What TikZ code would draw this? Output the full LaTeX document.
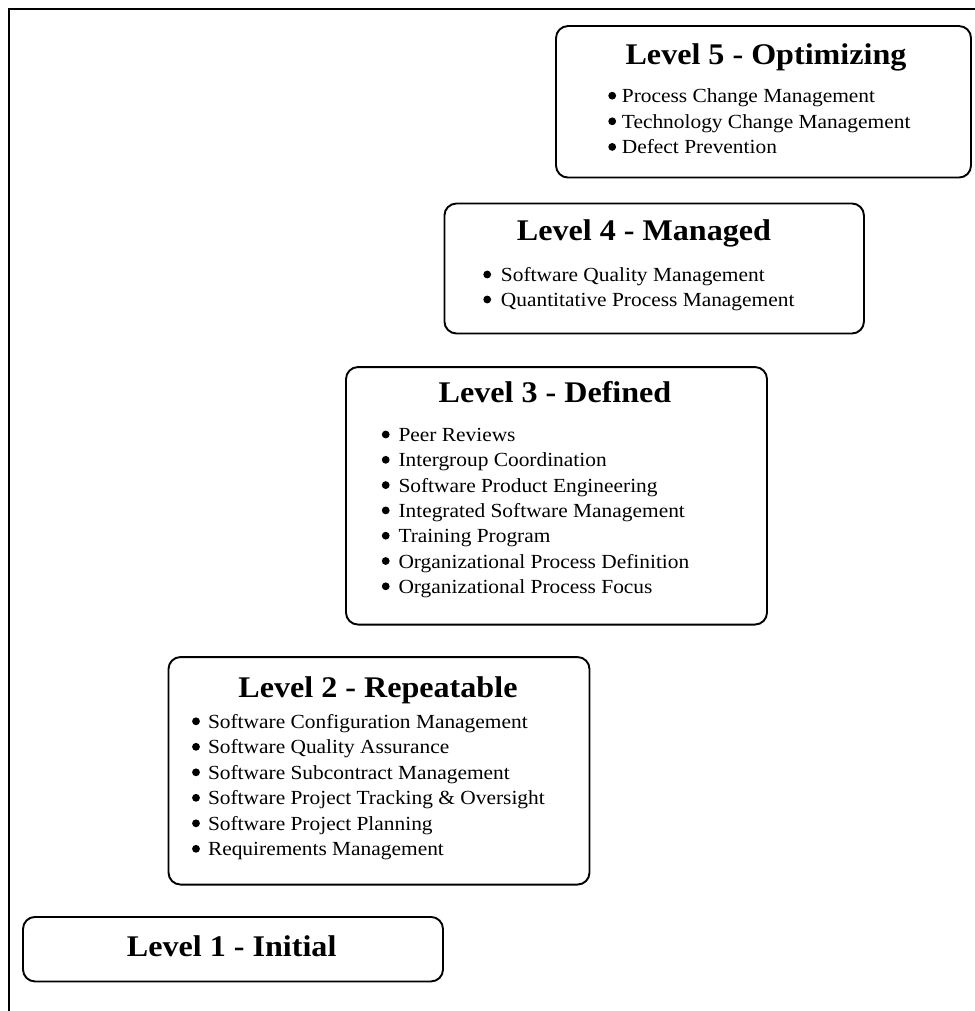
\documentclass[tikz,border=0pt]{standalone}
\usepackage{fontspec}
\setmainfont{Liberation Serif}[FakeStretch=1.07]
\usetikzlibrary{calc}

\begin{document}
\begin{tikzpicture}[x=1pt,y=-1pt,
  box/.style={draw, line width=1.9pt, rounded corners=12pt, inner sep=0pt},
  title/.style={anchor=base, inner sep=0pt, font=\fontsize{30}{36}\selectfont\bfseries},
  item/.style={anchor=base west, inner sep=0pt, font=\fontsize{20}{24}\selectfont},
  dot/.style={fill, circle, inner sep=0pt, minimum size=7.8pt}]
\useasboundingbox (0,0) rectangle (974,1011);

% outer frame (top and left edges)
\draw[line width=2pt] (8.5,1015) -- (8.5,9) -- (980,9);

% level boxes
\node[box, minimum width=415pt, minimum height=151.5pt] (lvl5) at (763.5,101.8) {};
\node[box, minimum width=419.5pt, minimum height=130pt] (lvl4) at (654.2,268.5) {};
\node[box, minimum width=421pt, minimum height=257.5pt] (lvl3) at (556.5,495.8) {};
\node[box, minimum width=421pt, minimum height=227.5pt] (lvl2) at (379,770.8) {};
\node[box, minimum width=420pt, minimum height=64.5pt] (lvl1) at (233,949.2) {};

% titles
\node[title] (t5) at (766,65) {Level 5 - Optimizing};
\node[title] (t4) at (644,240.7) {Level 4 - Managed};
\node[title] (t3) at (555,402.7) {Level 3 - Defined};
\node[title] (t2) at (378,697.3) {Level 2 - Repeatable};
\node[title] (t1) at (231.7,956.7) {Level 1 - Initial};

% key process areas
\foreach \t [count=\i from 0] in {Process Change Management, Technology Change Management, Defect Prevention} {
  \node[item] (k5\i) at (621.7,102.7+25.6*\i) {\t};
  \node[dot] at ($(k5\i.base west)+(-9.5,-7)$) {};
}
\foreach \t [count=\i from 0] in {Software Quality Management, Quantitative Process Management} {
  \node[item] (k4\i) at (500.7,281.5+25*\i) {\t};
  \node[dot] at ($(k4\i.base west)+(-13.5,-7)$) {};
}
\foreach \t [count=\i from 0] in {Peer Reviews, Intergroup Coordination, Software Product Engineering, Integrated Software Management, Training Program, Organizational Process Definition, Organizational Process Focus} {
  \node[item] (k3\i) at (398.3,441.5+25.3*\i) {\t};
  \node[dot] at ($(k3\i.base west)+(-12.6,-7)$) {};
}
\foreach \t [count=\i from 0] in {Software Configuration Management, Software Quality Assurance, Software Subcontract Management, Software Project Tracking \& Oversight, Software Project Planning, Requirements Management} {
  \node[item] (k2\i) at (207.8,728.3+25.5*\i) {\t};
  \node[dot] at ($(k2\i.base west)+(-11.8,-7)$) {};
}
\end{tikzpicture}
\end{document}
